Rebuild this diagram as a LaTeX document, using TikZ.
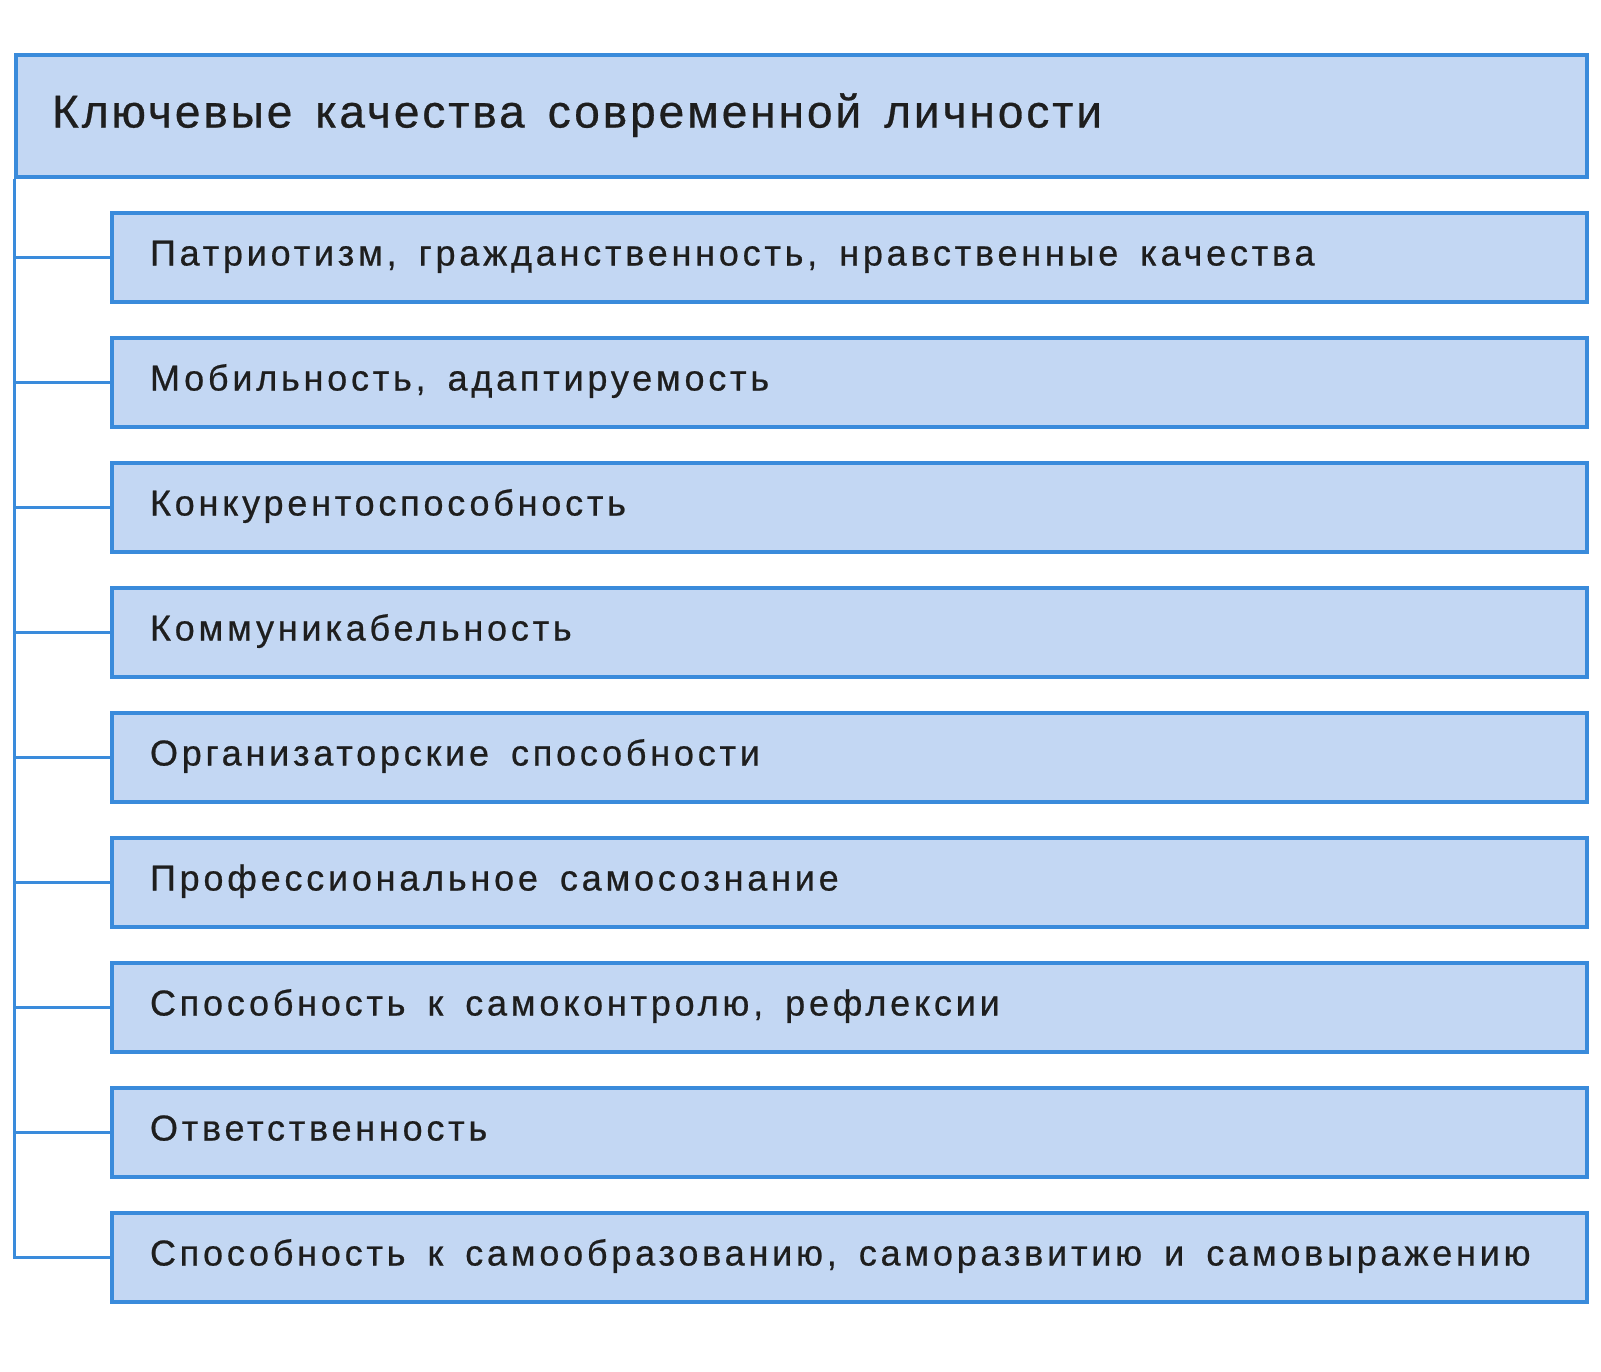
\documentclass[tikz,border=0pt]{standalone}
\usepackage{fontspec}
\setmainfont{Liberation Sans}
\newfontfamily\headfam{Liberation Sans}[LetterSpace=6.4, FakeBold=0.6]
\newfontfamily\itemfam{Liberation Sans}[LetterSpace=10.5, FakeBold=0.6]
\definecolor{boxfill}{HTML}{C3D7F3}
\definecolor{boxline}{HTML}{3A8BDB}
\definecolor{txt}{HTML}{1E1E1E}
\newcommand{\myheadfont}{\headfam\fontsize{46}{52}\selectfont}
\newcommand{\myitemfont}{\itemfam\fontsize{36}{42}\selectfont}
\tikzset{
  headbox/.style={draw=boxline, fill=boxfill, line width=4pt, rectangle, anchor=north west,
    minimum width=1571pt, minimum height=122pt, text width=1499pt, inner xsep=36pt, align=left,
    text height=33pt, text depth=10pt,
    text=txt, font=\myheadfont, execute at begin node={\spaceskip=23pt\relax}},
  itembox/.style={draw=boxline, fill=boxfill, line width=4pt, rectangle, anchor=north west,
    minimum width=1475pt, minimum height=89pt, text width=1399pt, inner xsep=38pt, align=left,
    text height=26pt, text depth=10pt,
    text=txt, font=\myitemfont, execute at begin node={\spaceskip=22pt\relax}},
  conn/.style={draw=boxline, line width=3pt}
}
\begin{document}
\begin{tikzpicture}[x=1pt,y=-1pt]
\useasboundingbox (0,0) rectangle (1601,1371);
\fill[white] (0,0) rectangle (1601,1371);
\node[headbox] (h) at (14,53) {Ключевые качества современной личности};
\node[itembox] (c1) at (110,211) {Патриотизм, гражданственность, нравственные качества};
\node[itembox] (c2) at (110,336) {Мобильность, адаптируемость};
\node[itembox] (c3) at (110,461) {Конкурентоспособность};
\node[itembox] (c4) at (110,586) {Коммуникабельность};
\node[itembox] (c5) at (110,711) {Организаторские способности};
\node[itembox] (c6) at (110,836) {Профессиональное самосознание};
\node[itembox] (c7) at (110,961) {Способность к самоконтролю, рефлексии};
\node[itembox] (c8) at (110,1086) {Ответственность};
\node[itembox] (c9) at (110,1211) {Способность к самообразованию, саморазвитию и самовыражению};
\draw[conn] (h.south west) |- (c9.west);
\foreach \i in {1,...,8} {\draw[conn] (h.south west |- c\i.west) -- (c\i.west);}
\end{tikzpicture}
\end{document}
